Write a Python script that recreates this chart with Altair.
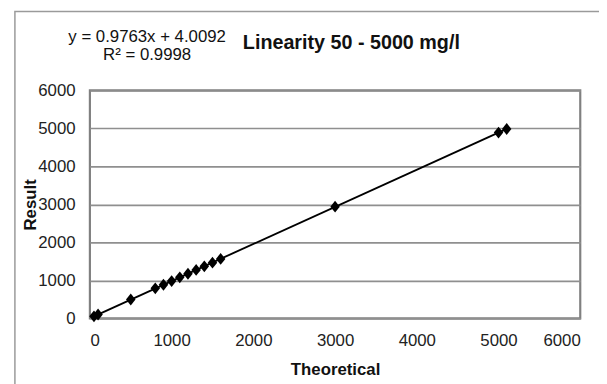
import altair as alt
import pandas as pd

theoretical = [50, 100, 500, 800, 900, 1000, 1100, 1200, 1300, 1400, 1500, 1600, 3000, 5000, 5100]
result = [52, 101, 495, 790, 885, 980, 1080, 1175, 1275, 1370, 1465, 1565, 2940, 4890, 4985]

title_text = "Linearity 50 - 5000 mg/l"
eq_line1 = "y = 0.9763x + 4.0092"
eq_line2 = "R² = 0.9998"
x_title = "Theoretical"
y_title = "Result"
axis_ticks = [0, 1000, 2000, 3000, 4000, 5000, 6000]

df = pd.DataFrame({"Theoretical": theoretical, "Result": result})

FONT = "Liberation Sans"
W, H = 497, 231

xenc = alt.X("Theoretical:Q",
             scale=alt.Scale(domain=[0, 6000], nice=False),
             axis=alt.Axis(values=axis_ticks, format="d", labelOverlap=False,
                           title=x_title, grid=False, ticks=False,
                           domain=False, labelPadding=15, labelFontSize=17,
                           labelColor="#222", labelFont=FONT, titleFont=FONT,
                           titleFontSize=17, titleFontWeight="bold", titleColor="#111",
                           titleBaseline="alphabetic", titleY=57))
yenc = alt.Y("Result:Q",
             scale=alt.Scale(domain=[0, 6000], nice=False),
             axis=alt.Axis(values=axis_ticks, format="d", labelOverlap=False,
                           title=y_title, grid=True, ticks=False,
                           domain=False, labelPadding=15, labelFontSize=17,
                           labelColor="#222", labelFont=FONT, titleFont=FONT,
                           titleFontSize=17, titleFontWeight="bold", titleColor="#111",
                           titleBaseline="alphabetic", titleX=-55, titleY=H / 2,
                           gridColor="#8f8f8f", gridWidth=1.6))

base = alt.Chart(df)

points = base.mark_point(
    shape="M0,-1L0.8,0L0,1L-0.8,0Z", filled=True, color="black", opacity=1, size=144
).encode(x=xenc, y=yenc)

line = base.transform_regression("Theoretical", "Result").mark_line(
    color="black", strokeWidth=1.9
).encode(x=xenc, y=yenc)

outer = alt.Chart(pd.DataFrame({"a": [0]})).mark_rect(
    fillOpacity=0, stroke="#9a9a9a", strokeWidth=1.5
).encode(x=alt.value(15 - 91), x2=alt.value(700), y=alt.value(9 - 89), y2=alt.value(500))

eq1 = alt.Chart(pd.DataFrame({"t": [eq_line1]})).mark_text(
    font=FONT, fontSize=17, color="#111", align="center", baseline="alphabetic"
).encode(text="t:N", x=alt.value(58), y=alt.value(-49))
eq2 = alt.Chart(pd.DataFrame({"t": [eq_line2]})).mark_text(
    font=FONT, fontSize=17, color="#111", align="center", baseline="alphabetic"
).encode(text="t:N", x=alt.value(58), y=alt.value(-31))
ttl = alt.Chart(pd.DataFrame({"t": [title_text]})).mark_text(
    font=FONT, fontSize=20, fontWeight="bold", color="#111", align="center", baseline="alphabetic"
).encode(text="t:N", x=alt.value(265), y=alt.value(-42))

chart = alt.layer(outer, line, points, eq1, eq2, ttl).properties(
    width=W, height=H,
    autosize=alt.AutoSizeParams(type="none"),
    padding={"left": 83, "top": 81, "right": 19, "bottom": 64},
    background="white",
).configure_view(stroke="#808080", strokeWidth=2.2)

chart.save("out.html", embed_options={"renderer": "svg", "actions": False})
